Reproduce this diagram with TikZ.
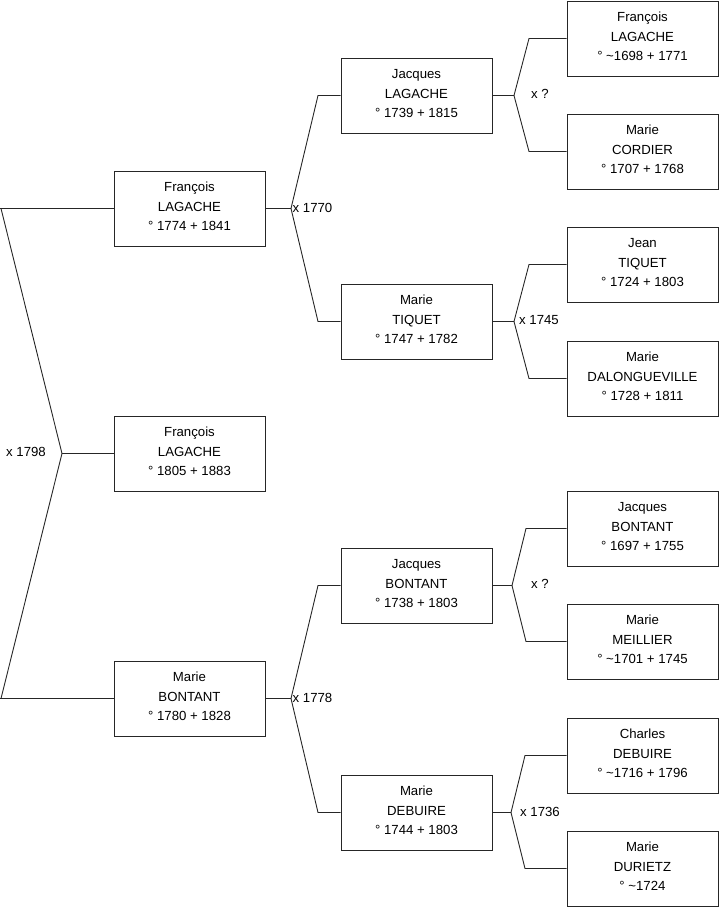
\documentclass[tikz,border=0pt]{standalone}
\usepackage{fontspec}
\setmainfont{Liberation Sans}
\begin{document}
\begin{tikzpicture}[x=1pt,y=-1pt,
  person/.style={draw=black!85, line width=0.9pt, minimum width=151pt, minimum height=75pt,
    align=center, inner sep=0pt, text depth=4pt, font=\fontsize{13.2}{19.5}\selectfont},
  link/.style={draw=black!85, line width=0.9pt},
  wed/.style={anchor=west, inner sep=0pt, font=\fontsize{13.2}{15}\selectfont}]
\useasboundingbox (0,0) rectangle (719,908);
% generation 1
\node[person] (f1) at (189.5,208.5) {François\\LAGACHE\\° 1774 + 1841};
\node[person] (ch) at (189.5,453.5) {François\\LAGACHE\\° 1805 + 1883};
\node[person] (m1) at (189.5,698.5) {Marie\\BONTANT\\° 1780 + 1828};
% generation 2
\node[person] (f2) at (416.5,95.5) {Jacques\\LAGACHE\\° 1739 + 1815};
\node[person] (m2) at (416.5,321.5) {Marie\\TIQUET\\° 1747 + 1782};
\node[person] (f3) at (416.5,585.5) {Jacques\\BONTANT\\° 1738 + 1803};
\node[person] (m3) at (416.5,812.5) {Marie\\DEBUIRE\\° 1744 + 1803};
% generation 3
\node[person] (g1) at (642.5,38.5) {François\\LAGACHE\\° \textasciitilde1698 + 1771};
\node[person] (g2) at (642.5,151.5) {Marie\\CORDIER\\° 1707 + 1768};
\node[person] (g3) at (642.5,264.5) {Jean\\TIQUET\\° 1724 + 1803};
\node[person] (g4) at (642.5,378.5) {Marie\\DALONGUEVILLE\\° 1728 + 1811};
\node[person] (g5) at (642.5,528.5) {Jacques\\BONTANT\\° 1697 + 1755};
\node[person] (g6) at (642.5,641.5) {Marie\\MEILLIER\\° \textasciitilde1701 + 1745};
\node[person] (g7) at (642.5,755.5) {Charles\\DEBUIRE\\° \textasciitilde1716 + 1796};
\node[person] (g8) at (642.5,868.5) {Marie\\DURIETZ\\° \textasciitilde1724};
% level 0 fork
\coordinate (t0) at (1,208.5);
\coordinate (v0) at (62,453.5);
\coordinate (u0) at (1,698.5);
\draw[link] (f1.west) -- (0,208.5);
\draw[link] (t0) -- (v0) -- (u0);
\draw[link] (0,698.5) -- (m1.west);
\draw[link] (v0) -- (ch.west);
\node[wed] (w0) at (6,452) {x 1798};
% level 1 forks
\coordinate (v1) at (291,208.5);
\coordinate (t1) at (318,95.5);
\coordinate (u1) at (318,321.5);
\draw[link] (f1.east) -- (v1);
\draw[link] (f2.west) -- (t1) -- (v1) -- (u1) -- (m2.west);
\node[wed] (w1) at (292.5,207.5) {x 1770};
\coordinate (v2) at (291,698.5);
\coordinate (t2) at (318,585.5);
\coordinate (u2) at (318,812.5);
\draw[link] (m1.east) -- (v2);
\draw[link] (f3.west) -- (t2) -- (v2) -- (u2) -- (m3.west);
\node[wed] (w2) at (292.5,697.5) {x 1778};
% level 2 forks
\coordinate (v3) at (514,95.5);
\coordinate (t3) at (529,38.5);
\coordinate (u3) at (529,151.5);
\draw[link] (f2.east) -- (v3);
\draw[link] (g1.west) -- (t3) -- (v3) -- (u3) -- (g2.west);
\node[wed] (w3) at (531,93.5) {x ?};
\coordinate (v4) at (514,321.5);
\coordinate (t4) at (529,264.5);
\coordinate (u4) at (529,378.5);
\draw[link] (m2.east) -- (v4);
\draw[link] (g3.west) -- (t4) -- (v4) -- (u4) -- (g4.west);
\node[wed] (w4) at (519,320.5) {x 1745};
\coordinate (v5) at (512,585.5);
\coordinate (t5) at (526,528.5);
\coordinate (u5) at (526,641.5);
\draw[link] (f3.east) -- (v5);
\draw[link] (g5.west) -- (t5) -- (v5) -- (u5) -- (g6.west);
\node[wed] (w5) at (531,583.5) {x ?};
\coordinate (v6) at (511,812.5);
\coordinate (t6) at (525,755.5);
\coordinate (u6) at (525,868.5);
\draw[link] (m3.east) -- (v6);
\draw[link] (g7.west) -- (t6) -- (v6) -- (u6) -- (g8.west);
\node[wed] (w6) at (520,811.5) {x 1736};
\end{tikzpicture}
\end{document}
